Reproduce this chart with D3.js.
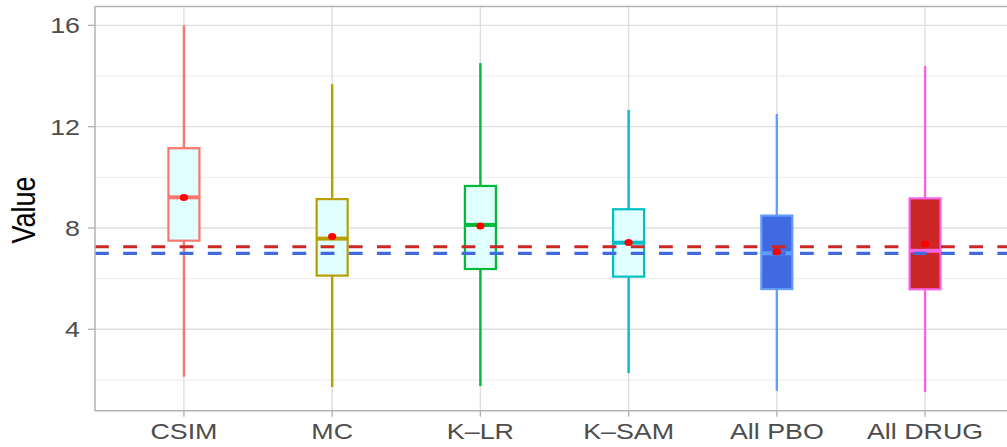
<!DOCTYPE html>
<html>
<head>
<meta charset="utf-8">
<script src="https://cdn.jsdelivr.net/npm/d3@7"></script>
<style>
  html, body { margin: 0; padding: 0; background: #fff; }
  svg { display: block; }
</style>
</head>
<body>
<div id="chart"></div>
<script>
// box statistics per group
const categories = ['CSIM', 'MC', 'K\u2013LR', 'K\u2013SAM', 'All PBO', 'All DRUG'];
const whiskerLow = [2.13, 1.72, 1.76, 2.27, 1.57, 1.52];
const q1 = [7.50, 6.12, 6.38, 6.08, 5.59, 5.58];
const medians = [9.21, 7.58, 8.12, 7.42, 7.00, 7.10];
const q3 = [11.15, 9.14, 9.66, 8.74, 8.49, 9.17];
const whiskerHigh = [16.0, 13.68, 14.51, 12.66, 12.5, 14.4];
const means = [9.2, 7.66, 8.08, 7.43, 7.06, 7.37];

const outlineColors = ['#F8766D', '#B79F00', '#00BA38', '#00BFC4', '#619CFF', '#F564E3'];
const fillColors = ['#E0FFFF', '#E0FFFF', '#E0FFFF', '#E0FFFF', '#4169E1', '#CD2626'];

// reference lines (drug / placebo)
const refValues = [7.26, 7.0];
const refColors = ['#CD2626', '#4169E1'];

const yTicks = [4, 8, 12, 16];
const yMinor = [2, 6, 10, 14];

const width = 1007, height = 447;
const panel = { left: 95, right: 1014, top: 6.6, bottom: 410.7 };
const stretch = 1.22;

const rows = categories.map((c, i) => ({
  cat: c, lo: whiskerLow[i], q1: q1[i], med: medians[i], q3: q3[i],
  hi: whiskerHigh[i], mean: means[i], stroke: outlineColors[i], fill: fillColors[i]
}));

const svg = d3.select('#chart').append('svg')
  .attr('width', width)
  .attr('height', height);

const x = d3.scalePoint()
  .domain(categories)
  .range([panel.left, panel.right])
  .padding(0.6);

const y = d3.scaleLinear()
  .domain([0.787, 16.74])
  .range([panel.bottom, panel.top]);

const boxW = 31;

// grid
const grid = svg.append('g');
grid.selectAll('.minor').data(yMinor).enter().append('line')
  .attr('x1', panel.left).attr('x2', panel.right)
  .attr('y1', d => y(d)).attr('y2', d => y(d))
  .style('stroke', '#EBEBEB').style('stroke-width', 1);
grid.selectAll('.major').data(yTicks).enter().append('line')
  .attr('x1', panel.left).attr('x2', panel.right)
  .attr('y1', d => y(d)).attr('y2', d => y(d))
  .style('stroke', '#DEDEDE').style('stroke-width', 1.4);
grid.selectAll('.vmajor').data(categories).enter().append('line')
  .attr('x1', d => x(d)).attr('x2', d => x(d))
  .attr('y1', panel.top).attr('y2', panel.bottom)
  .style('stroke', '#DEDEDE').style('stroke-width', 1.4);

// boxes
const boxes = svg.append('g').selectAll('g').data(rows).enter().append('g');

boxes.append('line')
  .attr('x1', d => x(d.cat)).attr('x2', d => x(d.cat))
  .attr('y1', d => y(d.hi)).attr('y2', d => y(d.q3))
  .style('stroke', d => d.stroke).style('stroke-width', 2.4);
boxes.append('line')
  .attr('x1', d => x(d.cat)).attr('x2', d => x(d.cat))
  .attr('y1', d => y(d.q1)).attr('y2', d => y(d.lo))
  .style('stroke', d => d.stroke).style('stroke-width', 2.4);
boxes.append('rect')
  .attr('x', d => x(d.cat) - boxW / 2)
  .attr('width', boxW)
  .attr('y', d => y(d.q3))
  .attr('height', d => y(d.q1) - y(d.q3))
  .style('fill', d => d.fill)
  .style('stroke', d => d.stroke)
  .style('stroke-width', 2.2);
boxes.append('line')
  .attr('x1', d => x(d.cat) - boxW / 2).attr('x2', d => x(d.cat) + boxW / 2)
  .attr('y1', d => y(d.med)).attr('y2', d => y(d.med))
  .style('stroke', d => d.stroke).style('stroke-width', 4);

// dashed reference lines
svg.append('g').selectAll('line').data(refValues).enter().append('line')
  .attr('x1', panel.left).attr('x2', panel.right)
  .attr('y1', d => y(d)).attr('y2', d => y(d))
  .style('stroke', (d, i) => refColors[i])
  .style('stroke-width', 3.2)
  .style('stroke-dasharray', '13.8,14.4');

// mean points
svg.append('g').selectAll('ellipse').data(rows).enter().append('ellipse')
  .attr('cx', d => x(d.cat)).attr('cy', d => y(d.mean))
  .attr('rx', 4.1).attr('ry', 3.5)
  .style('fill', '#FF0000');

// panel border
svg.append('path')
  .attr('d', `M${panel.right},${panel.top}H${panel.left}V${panel.bottom}H${panel.right}`)
  .style('fill', 'none').style('stroke', '#B3B3B3').style('stroke-width', 1.5);

// y axis ticks + labels
const yAxis = svg.append('g');
yAxis.selectAll('line').data(yTicks).enter().append('line')
  .attr('x1', panel.left - 7).attr('x2', panel.left)
  .attr('y1', d => y(d)).attr('y2', d => y(d))
  .style('stroke', '#B3B3B3').style('stroke-width', 1.4);
yAxis.selectAll('text').data(yTicks).enter().append('text')
  .attr('transform', d => `translate(80,${y(d) + 8}) scale(${stretch},1)`)
  .attr('text-anchor', 'end')
  .style('font-family', '"Liberation Sans", Arial, sans-serif')
  .style('font-size', '22px')
  .style('fill', '#4D4D4D')
  .text(d => d);

// x axis ticks + labels
const xAxis = svg.append('g');
xAxis.selectAll('line').data(categories).enter().append('line')
  .attr('x1', d => x(d)).attr('x2', d => x(d))
  .attr('y1', panel.bottom).attr('y2', panel.bottom + 6)
  .style('stroke', '#B3B3B3').style('stroke-width', 1.4);
xAxis.selectAll('text').data(categories).enter().append('text')
  .attr('transform', d => `translate(${x(d)},439) scale(${stretch},1)`)
  .attr('text-anchor', 'middle')
  .style('font-family', '"Liberation Sans", Arial, sans-serif')
  .style('font-size', '22px')
  .style('fill', '#4D4D4D')
  .text(d => d);

// y title
svg.append('text')
  .attr('transform', `translate(35,210) rotate(-90) scale(1,${stretch})`)
  .attr('text-anchor', 'middle')
  .style('font-family', '"Liberation Sans", Arial, sans-serif')
  .style('font-size', '27px')
  .style('fill', '#000')
  .text('Value');
</script>
</body>
</html>
